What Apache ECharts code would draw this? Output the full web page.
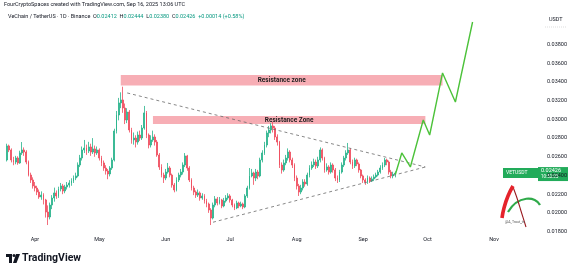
<!DOCTYPE html>
<html><head><meta charset="utf-8">
<script src="https://cdn.jsdelivr.net/npm/echarts@6/dist/echarts.min.js"></script>
<style>html,body{margin:0;padding:0;background:#fff}#c{width:575px;height:272px}</style>
</head><body><div id="c"></div>
<script>
// ---- data ----
const startDate = '2025-03-19';
const dayCount = 248;
const monthNames = ['Jan','Feb','Mar','Apr','May','Jun','Jul','Aug','Sep','Oct','Nov','Dec'];
const opens = [.02566,.02716,.02673,.02566,.02544,.02587,.02534,.02641,.02673,.02651,
.02544,.02405,.02352,.02288,.02266,.02223,.02170,.02191,.02138,.02009,
.01956,.02084,.02159,.02213,.02181,.02256,.02288,.02234,.02277,.02298,
.02320,.02341,.02373,.02395,.02512,.02587,.02673,.02694,.02662,.02705,
.02651,.02684,.02641,.02673,.02587,.02534,.02480,.02448,.02416,.02480,
.02566,.02876,.03047,.03176,.03208,.03122,.02994,.03079,.02887,.02780,
.02801,.02758,.02833,.02801,.02908,.03069,.02833,.02726,.02780,.02812,
.02758,.02619,.02491,.02405,.02373,.02437,.02480,.02405,.02298,.02245,
.02352,.02405,.02437,.02512,.02609,.02480,.02352,.02266,.02223,.02191,
.02213,.02159,.02181,.02127,.02095,.02031,.01945,.02084,.02149,.02106,
.02138,.02074,.02127,.02159,.02181,.02138,.02084,.02052,.02106,.02074,
.02095,.02063,.02181,.02266,.02395,.02427,.02373,.02437,.02395,.02566,
.02641,.02726,.02855,.02887,.02930,.02908,.02812,.02758,.02512,.02459,
.02534,.02587,.02651,.02566,.02512,.02373,.02288,.02223,.02266,.02330,
.02309,.02405,.02480,.02512,.02544,.02502,.02566,.02673,.02587,.02459,
.02491,.02437,.02512,.02459,.02373,.02352,.02437,.02512,.02587,.02641,
.02673,.02544,.02502,.02566,.02523,.02459,.02395,.02352,.02330,.02373,
.02341,.02363,.02384,.02405,.02437,.02480,.02512,.02566,.02544,.02437,
.02395,.02412];
const closes = [.02716,.02673,.02566,.02544,.02587,.02534,.02641,.02673,.02651,.02544,
.02405,.02352,.02288,.02266,.02223,.02170,.02191,.02138,.02009,.01956,
.02084,.02159,.02213,.02181,.02256,.02288,.02234,.02277,.02298,.02320,
.02341,.02373,.02395,.02512,.02587,.02673,.02694,.02662,.02705,.02651,
.02684,.02641,.02673,.02587,.02534,.02480,.02448,.02416,.02480,.02566,
.02876,.03047,.03176,.03208,.03122,.02994,.03079,.02887,.02780,.02801,
.02758,.02833,.02801,.02908,.03069,.02833,.02726,.02780,.02812,.02758,
.02619,.02491,.02405,.02373,.02437,.02480,.02405,.02298,.02245,.02352,
.02405,.02437,.02512,.02609,.02480,.02352,.02266,.02223,.02191,.02213,
.02159,.02181,.02127,.02095,.02031,.01945,.02084,.02149,.02106,.02138,
.02074,.02127,.02159,.02181,.02138,.02084,.02052,.02106,.02074,.02095,
.02063,.02181,.02266,.02395,.02427,.02373,.02437,.02395,.02566,.02641,
.02726,.02855,.02887,.02930,.02908,.02812,.02758,.02512,.02459,.02534,
.02587,.02651,.02566,.02512,.02373,.02288,.02223,.02266,.02330,.02309,
.02405,.02480,.02512,.02544,.02502,.02566,.02673,.02587,.02459,.02491,
.02437,.02512,.02459,.02373,.02352,.02437,.02512,.02587,.02641,.02673,
.02544,.02502,.02566,.02523,.02459,.02395,.02352,.02330,.02373,.02341,
.02363,.02384,.02405,.02437,.02480,.02512,.02566,.02544,.02437,.02395,
.02412,.02426];
const highs = [.02740,.02730,.02690,.02600,.02610,.02605,.02665,.02758,.02700,.02670,
.02560,.02430,.02380,.02330,.02290,.02250,.02230,.02210,.02150,.02080,
.02110,.02190,.02270,.02240,.02280,.02320,.02310,.02300,.02330,.02350,
.02370,.02400,.02430,.02540,.02620,.02710,.02780,.02730,.02760,.02740,
.02800,.02720,.02710,.02690,.02610,.02560,.02510,.02470,.02500,.02590,
.02900,.03090,.03230,.03290,.03350,.03170,.03120,.03100,.02910,.02860,
.02830,.02870,.02880,.02940,.03144,.03090,.02850,.02830,.02880,.02840,
.02780,.02640,.02520,.02430,.02470,.02534,.02500,.02420,.02320,.02380,
.02430,.02470,.02540,.02640,.02620,.02500,.02370,.02290,.02240,.02250,
.02230,.02210,.02200,.02150,.02110,.02050,.02110,.02180,.02170,.02170,
.02150,.02160,.02190,.02210,.02200,.02150,.02100,.02130,.02120,.02120,
.02110,.02200,.02290,.02480,.02470,.02440,.02470,.02460,.02590,.02670,
.02760,.02880,.02930,.02960,.02972,.02930,.02840,.02770,.02540,.02570,
.02620,.02690,.02670,.02590,.02530,.02400,.02310,.02300,.02360,.02360,
.02430,.02510,.02550,.02580,.02570,.02600,.02700,.02690,.02600,.02530,
.02510,.02540,.02530,.02480,.02400,.02460,.02540,.02610,.02670,.02748,
.02690,.02570,.02590,.02580,.02540,.02470,.02410,.02370,.02400,.02390,
.02390,.02410,.02430,.02460,.02510,.02540,.02587,.02580,.02560,.02460,
.02440,.02444];
const lows = [.02550,.02650,.02540,.02510,.02520,.02515,.02525,.02620,.02610,.02520,
.02390,.02320,.02260,.02230,.02190,.02150,.02140,.02090,.01950,.01870,
.01930,.02040,.02120,.02150,.02160,.02230,.02200,.02210,.02250,.02270,
.02290,.02320,.02350,.02380,.02490,.02560,.02640,.02620,.02640,.02610,
.02630,.02600,.02620,.02560,.02500,.02450,.02410,.02360,.02390,.02460,
.02550,.02850,.02990,.03120,.03070,.02950,.02960,.02860,.02740,.02730,
.02700,.02730,.02770,.02780,.02890,.02800,.02690,.02700,.02760,.02720,
.02600,.02460,.02380,.02320,.02350,.02420,.02380,.02270,.02220,.02230,
.02330,.02380,.02410,.02490,.02450,.02330,.02240,.02190,.02160,.02170,
.02130,.02140,.02100,.02060,.02000,.01870,.01930,.02060,.02080,.02090,
.02050,.02060,.02110,.02140,.02110,.02060,.02030,.02040,.02050,.02060,
.02040,.02050,.02160,.02250,.02380,.02300,.02340,.02360,.02380,.02540,
.02620,.02700,.02810,.02850,.02860,.02780,.02720,.02480,.02420,.02440,
.02510,.02560,.02540,.02480,.02340,.02250,.02181,.02200,.02240,.02280,
.02290,.02380,.02460,.02490,.02470,.02480,.02540,.02560,.02430,.02440,
.02410,.02420,.02430,.02340,.02320,.02330,.02420,.02490,.02560,.02620,
.02520,.02470,.02480,.02500,.02430,.02370,.02320,.02300,.02310,.02320,
.02330,.02340,.02370,.02390,.02420,.02460,.02490,.02510,.02410,.02370,
.02370,.02380];
const priceTicks = [0.018,0.020,0.022,0.024,0.026,0.028,0.030,0.032,0.034,0.036,0.038];
const zoneStart = [53, 68];
const zoneEnd = [203, 195];
const zoneLow = [0.03363, 0.02951];
const zoneHigh = [0.03475, 0.03037];
const zoneLabels = ['Resistance zone', 'Resistance Zone'];
const trendFromIdx = [56, 96];
const trendFromPrice = [0.03283, 0.01900];
const trendToIdx = [195, 195];
const trendToPrice = [0.02491, 0.02491];
const projIdx = [181, 184, 188, 194, 197, 203, 209, 217];
const projPrices = [0.02410, 0.02641, 0.02491, 0.02994, 0.02833, 0.03497, 0.03186, 0.04042];

// ---- build ----
const dates = [];
const d0 = new Date(startDate + 'T00:00:00Z');
for (let i = 0; i < dayCount; i++) {
  const d = new Date(d0.getTime() + i * 86400000);
  dates.push(d.toISOString().slice(0, 10));
}
const candles = closes.map((c, i) => [opens[i], c, lows[i], highs[i]]);
const UP = '#26b28a', DOWN = '#ef4a5c';
const FONT = 'Roboto, "Noto Sans", sans-serif';

const chart = echarts.init(document.getElementById('c'), null, {renderer: 'canvas'});
const option = {
  animation: false,
  backgroundColor: '#ffffff',
  grid: {left: 6, right: 37, top: 12, bottom: 38, containLabel: false},
  xAxis: {
    type: 'category', data: dates, boundaryGap: true,
    axisLine: {show: false}, axisTick: {show: false}, splitLine: {show: false},
    axisLabel: {
      interval: (idx, val) => val.endsWith('-01') && idx > 0,
      formatter: v => monthNames[parseInt(v.slice(5, 7), 10) - 1],
      fontSize: 5.5, color: '#131722', margin: 3, fontFamily: FONT
    }
  },
  yAxis: {
    type: 'value', position: 'right', scale: true,
    min: 0.01774, max: 0.04149,
    axisLine: {show: false}, axisTick: {show: false}, splitLine: {show: false},
    axisLabel: {
      customValues: priceTicks,
      formatter: v => v.toFixed(5),
      fontSize: 5.5, color: '#131722', margin: 9, fontFamily: FONT
    }
  },
  series: [
    {
      type: 'candlestick', data: candles, barWidth: '62%',
      itemStyle: {color: UP, color0: DOWN, borderColor: UP, borderColor0: DOWN, borderWidth: 0.8},
      markArea: {
        silent: true,
        itemStyle: {color: '#f7aeb5', opacity: 1},
        label: {show: true, position: 'inside', fontSize: 6.5, fontWeight: 'bold', color: '#1e1e1e', fontFamily: FONT},
        data: zoneStart.map((s, k) => [
          {name: zoneLabels[k], xAxis: dates[s], yAxis: zoneHigh[k]},
          {xAxis: dates[zoneEnd[k]], yAxis: zoneLow[k]}
        ])
      },
      markLine: {
        silent: true, symbol: ['none', 'none'],
        lineStyle: {color: '#6a6a6a', type: [3, 3], width: 0.8},
        label: {show: false},
        data: trendFromIdx.map((s, k) => [
          {coord: [dates[s], trendFromPrice[k]]},
          {coord: [dates[trendToIdx[k]], trendToPrice[k]]}
        ])
      }
    },
    {
      type: 'line', data: projIdx.map((d, k) => [dates[d], projPrices[k]]),
      symbol: 'none', lineStyle: {color: '#4cc23a', width: 1.4}, z: 5
    }
  ]
};
chart.setOption(option);

const lastClose = closes[closes.length - 1];
const py = chart.convertToPixel({yAxisIndex: 0}, lastClose);
chart.setOption({
  graphic: [
    {type: 'text', left: 4, top: 2, style: {text: 'FourCryptoSpaces created with TradingView.com, Sep 16, 2025 13:06 UTC', fontSize: 5.5, fontFamily: FONT, fill: '#131722'}},
    {type: 'text', left: 8, top: 14, style: {
      text: '{n|VeChain / TetherUS · 1D · Binance}  {n|O}{g|0.02412}  {n|H}{g|0.02444}  {n|L}{g|0.02380}  {n|C}{g|0.02426}  {g|+0.00014 (+0.58%)}',
      fontSize: 5.5, fontFamily: FONT,
      rich: {n: {fill: '#131722', fontSize: 5.5, fontFamily: FONT}, g: {fill: '#089981', fontSize: 5.5, fontFamily: FONT}}
    }},
    {type: 'text', left: 549, top: 17, style: {text: 'USDT', fontSize: 5.5, fontFamily: FONT, fill: '#131722'}},
    {type: 'line', shape: {x1: 545, y1: 27, x2: 566, y2: 27}, style: {stroke: '#c8c8c8', lineWidth: 0.6, lineDash: [1, 1]}},
    {type: 'rect', shape: {x: 503, y: py - 5, width: 35, height: 10}, style: {fill: '#22ab5a'}},
    {type: 'text', left: 506, top: py - 3, style: {text: 'VETUSDT', fontSize: 5, fontFamily: FONT, fill: '#ffffff'}},
    {type: 'rect', shape: {x: 538, y: py - 6, width: 30, height: 14}, style: {fill: '#22ab5a'}},
    {type: 'text', left: 541, top: py - 5, style: {text: '0.02426', fontSize: 5.5, fontFamily: FONT, fill: '#ffffff'}},
    {type: 'text', left: 541, top: py + 1.5, style: {text: '10:52:05', fontSize: 4.5, fontFamily: FONT, fill: '#ffffff'}},
    // watermark logo
    {type: 'bezierCurve', shape: {x1: 508, y1: 212, cpx1: 518, cpy1: 195, cpx2: 536, cpy2: 196, x2: 540, y2: 205}, style: {stroke: '#2faa4a', lineWidth: 2.2, fill: null}},
    {type: 'polyline', shape: {points: [[513, 187], [517, 198], [521, 211], [526, 227]], smooth: 0.3}, style: {stroke: '#9a1a20', lineWidth: 1.1, fill: null}},
    {type: 'polyline', shape: {points: [[502, 218], [504, 208], [508, 196], [513, 186]], smooth: 0.5}, style: {stroke: '#e5232b', lineWidth: 3.6, fill: null}},
    {type: 'text', left: 505, top: 220, style: {text: '@A_Trout_tn', fontSize: 3.5, fontFamily: FONT, fill: '#555'}},
    // TradingView logo
    {type: 'rect', shape: {x: 6, y: 254, width: 6, height: 3}, style: {fill: '#131722'}},
    {type: 'rect', shape: {x: 9, y: 254, width: 3, height: 9}, style: {fill: '#131722'}},
    {type: 'circle', shape: {cx: 14, cy: 255.5, r: 1.5}, style: {fill: '#131722'}},
    {type: 'polygon', shape: {points: [[16, 254], [20, 254], [16.5, 263], [13, 263]]}, style: {fill: '#131722'}},
    {type: 'text', left: 22, top: 252.5, style: {text: 'TradingView', fontSize: 10.5, fontWeight: 'bold', fontFamily: FONT, fill: '#131722'}}
  ]
});
</script></body></html>
